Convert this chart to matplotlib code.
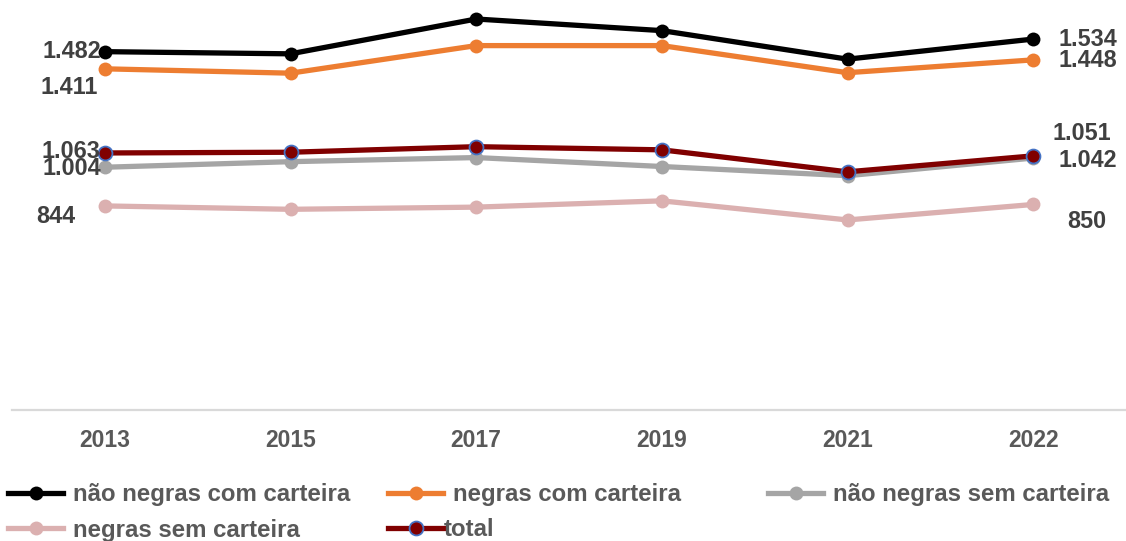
import matplotlib
matplotlib.use("Agg")
import matplotlib.pyplot as plt
from matplotlib.lines import Line2D

years = ["2013", "2015", "2017", "2019", "2021", "2022"]
nao_negras_com = [1482, 1473, 1617, 1569, 1451, 1534]
negras_com = [1411, 1393, 1507, 1507, 1395, 1448]
nao_negras_sem = [1004, 1027, 1044, 1007, 969, 1042]
negras_sem = [844, 830, 839, 865, 786, 850]
total = [1063, 1066, 1089, 1076, 985, 1051]

labels = ["não negras com carteira", "negras com carteira", "não negras sem carteira",
          "negras sem carteira", "total"]

plt.rcParams['font.family'] = ['Liberation Sans', 'DejaVu Sans']
plt.rcParams['font.weight'] = 'bold'

fig = plt.figure(figsize=(11.26, 5.41), dpi=100)
ax = fig.add_axes([12/1126, 1 - 410/541, 1 - 12/1126, 410/541])

x = list(range(len(years)))
lw = 3.8
ms = 10
styles = [
    (nao_negras_com, '#000000', '#000000'),
    (negras_com, '#ED7D31', '#ED7D31'),
    (nao_negras_sem, '#A5A5A5', '#A5A5A5'),
    (negras_sem, '#DBB0B0', '#DBB0B0'),
    (total, '#800000', '#4472C4'),
]
handles = []
for (vals, col, ec), lab in zip(styles, labels):
    mew = 1.3 if ec != col else 0
    ax.plot(x, vals, color=col, lw=lw, marker='o', ms=ms, mfc=col, mec=ec, mew=mew,
            solid_capstyle='round', zorder=3)
    handles.append(Line2D([0], [0], color=col, lw=lw, marker='o', ms=ms, mfc=col,
                          mec=ec, mew=mew))

ax.set_xlim(-0.5, len(years) - 0.5)
ax.set_ylim(0, 410 / 0.2418)
ax.set_xticks(x)
ax.set_xticklabels(years)
ax.tick_params(axis='x', length=0, pad=14, labelsize=16.5, labelcolor='#595959')
ax.set_yticks([])
for s in ['top', 'right', 'left']:
    ax.spines[s].set_visible(False)
ax.spines['bottom'].set_color('#D9D9D9')
ax.spines['bottom'].set_linewidth(1.6)
ax.patch.set_alpha(0)

lab_col = '#404040'
fs = 16.8
def lbl(series, i, text, dx, dy, ha):
    ax.annotate(text, (x[i], series[i]), xytext=(dx, dy), textcoords='offset pixels',
                ha=ha, va='center', fontsize=fs, color=lab_col, fontweight='bold', zorder=5)

lbl(nao_negras_com, 0, "1.482", -4, 0, 'right')
lbl(negras_com, 0, "1.411", -7, -19, 'right')
lbl(total, 0, "1.063", -4, 1, 'right')
lbl(nao_negras_sem, 0, "1.004", -4, -1, 'right')
lbl(negras_sem, 0, "844", -29, -11, 'right')
lbl(nao_negras_com, 5, "1.534", 25, 0, 'left')
lbl(negras_com, 5, "1.448", 25, -1, 'left')
lbl(total, 5, "1.051", 19, 22, 'left')
lbl(nao_negras_sem, 5, "1.042", 25, -2, 'left')
lbl(negras_sem, 5, "850", 34, -17, 'left')

positions = [(8, 495), (388, 495), (768, 495), (8, 530), (388, 530)]
for h, lab, (px, py) in zip(handles, labels, positions):
    pad = 0.0 if lab == "total" else 0.4
    leg = fig.legend([h], [lab], loc='center left', bbox_to_anchor=(px/1126, 1 - py/541),
                     frameon=False, borderpad=0, borderaxespad=0, handlelength=2.3,
                     handletextpad=pad, prop={'size': 17.3, 'weight': 'bold'})
    for t in leg.get_texts():
        t.set_color('#595959')

fig.savefig("out.png", dpi=100)
